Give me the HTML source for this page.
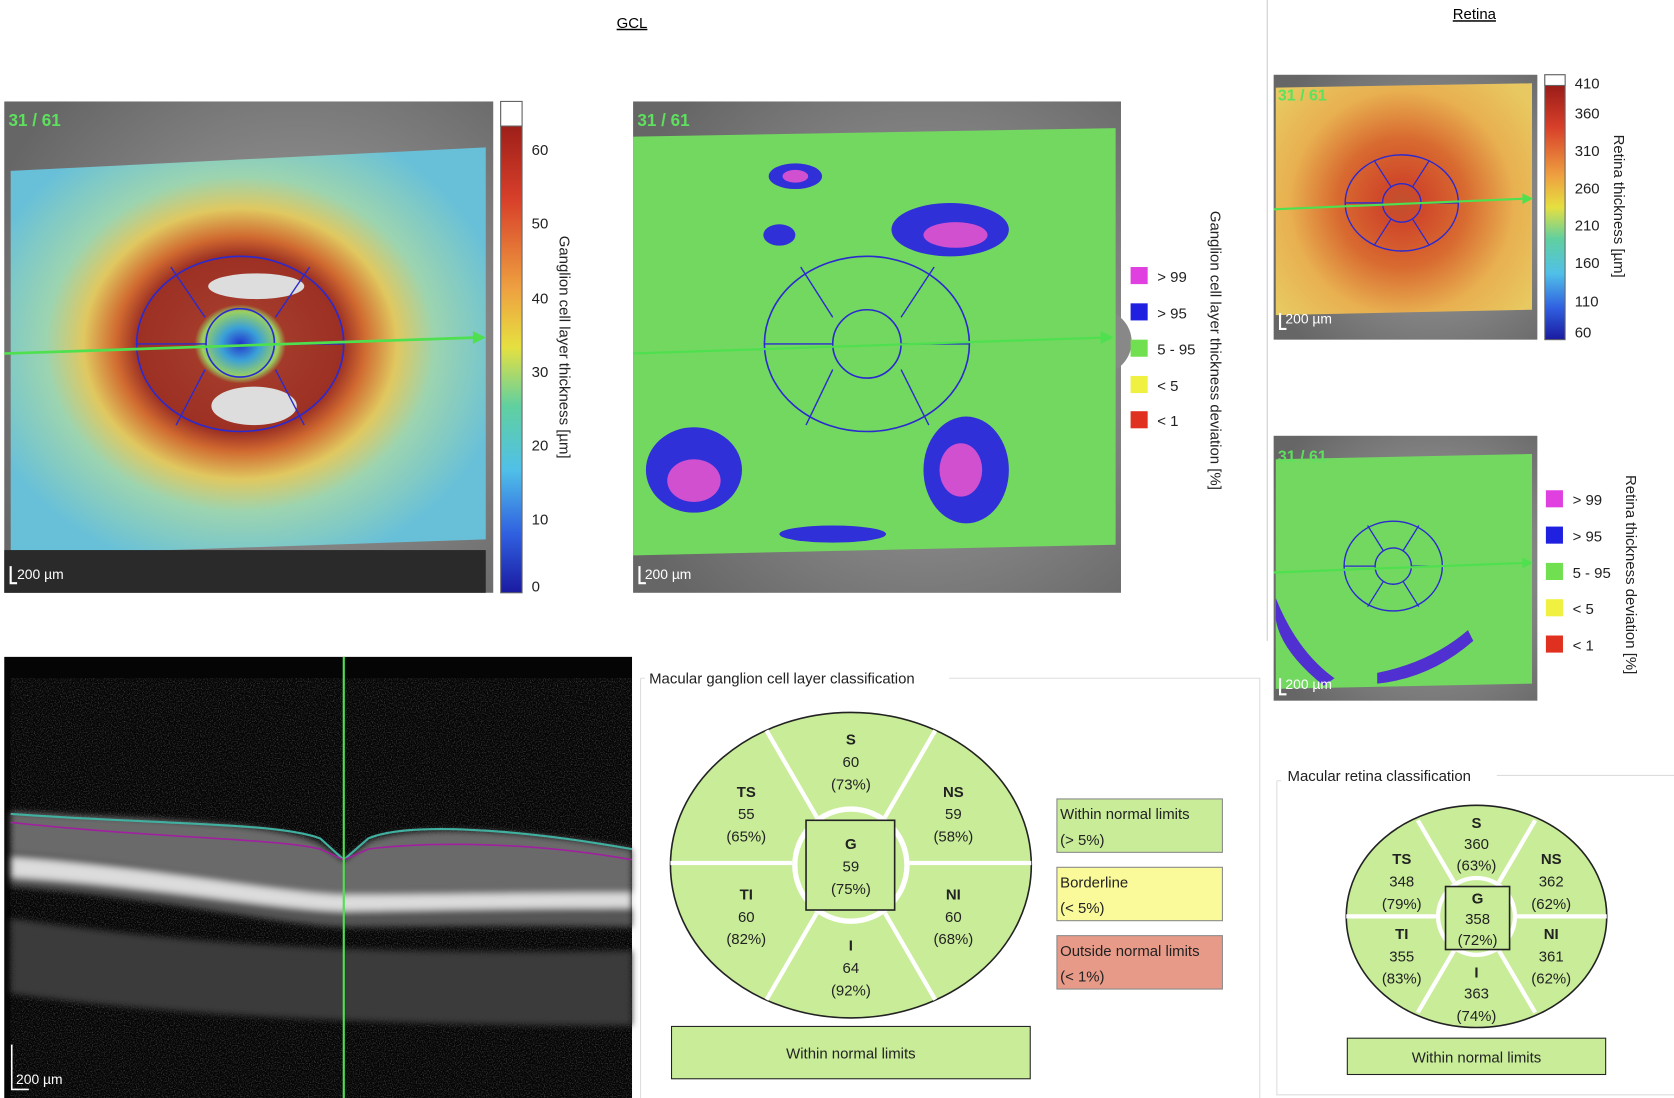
<!DOCTYPE html>
<html><head><meta charset="utf-8"><style>
html,body{margin:0;padding:0;background:#fff;width:1674px;height:1098px;overflow:hidden}
svg{display:block}
text{font-family:"Liberation Sans","DejaVu Sans",sans-serif}
</style></head><body>
<svg width="1674" height="1098" viewBox="0 0 1568 1028" preserveAspectRatio="none" xmlns="http://www.w3.org/2000/svg">
<defs>
<filter id="noise" x="0" y="0" width="100%" height="100%"><feTurbulence type="fractalNoise" baseFrequency="0.9" numOctaves="2" seed="3"/><feColorMatrix values="0 0 0 0 1  0 0 0 0 1  0 0 0 0 1  0 0 0 1.6 -0.75"/></filter>
<filter id="blur"><feGaussianBlur stdDeviation="3"/></filter>
<radialGradient id="gclmap" cx="225" cy="322" r="230" gradientUnits="userSpaceOnUse" gradientTransform="translate(225 322) scale(1.1 0.95) translate(-225 -322)">
<stop offset="0" stop-color="#2233cc"/><stop offset="0.07" stop-color="#3aa0d8"/><stop offset="0.14" stop-color="#9ad060"/><stop offset="0.17" stop-color="#a33a2a"/><stop offset="0.38" stop-color="#9c3024"/><stop offset="0.46" stop-color="#d06a30"/><stop offset="0.58" stop-color="#e0c860"/><stop offset="0.72" stop-color="#9cd4b0"/><stop offset="1" stop-color="#68c0d8"/></radialGradient>
<linearGradient id="cb1" x1="0" y1="0" x2="0" y2="1"><stop offset="0" stop-color="#8a1414"/><stop offset="0.2" stop-color="#d8402a"/><stop offset="0.38" stop-color="#eea040"/><stop offset="0.5" stop-color="#e6e040"/><stop offset="0.62" stop-color="#60d0a0"/><stop offset="0.75" stop-color="#50c0e8"/><stop offset="0.88" stop-color="#3060e0"/><stop offset="1" stop-color="#1a1aa0"/></linearGradient>
<radialGradient id="retmap" cx="1313" cy="190" r="150" gradientUnits="userSpaceOnUse"><stop offset="0" stop-color="#c05030"/><stop offset="0.15" stop-color="#d04a2a"/><stop offset="0.4" stop-color="#d86a30"/><stop offset="0.7" stop-color="#e8b050"/><stop offset="1" stop-color="#e8c860"/></radialGradient>
<radialGradient id="fund" cx="0.6" cy="0.5" r="0.7"><stop offset="0" stop-color="#aaa"/><stop offset="1" stop-color="#666"/></radialGradient>
</defs>
<rect width="1568" height="1028" fill="#fff"/>
<text x="592" y="26" font-size="14" text-anchor="middle" text-decoration="underline">GCL</text>
<text x="1381" y="18" font-size="14" text-anchor="middle" text-decoration="underline">Retina</text>
<line x1="1187" y1="0" x2="1187" y2="600" stroke="#ccc"/>

<!-- GCL thickness map -->
<rect x="4" y="95" width="458" height="460" fill="url(#fund)"/>
<polygon points="10,160 455,138 455,505 10,520" fill="url(#gclmap)"/>
<rect x="4" y="515" width="451" height="40" fill="#2a2a2a"/>
<ellipse cx="240" cy="268" rx="45" ry="12" fill="#ddd"/><ellipse cx="238" cy="380" rx="40" ry="18" fill="#ddd"/>
<ellipse cx="225" cy="322" rx="97" ry="82" fill="none" stroke="#2a2ad0" stroke-width="1.5"/>
<circle cx="225" cy="321" r="32" fill="none" stroke="#2a2ad0" stroke-width="1.5"/>
<path d="M192,297 L160,250 M258,297 L290,250 M192,346 L165,398 M258,346 L285,398 M128,322 L193,322 M257,322 L322,322" stroke="#2a2ad0" stroke-width="1.3"/>
<line x1="4" y1="331" x2="448" y2="316" stroke="#4ee04e" stroke-width="2.5"/><polygon points="455,316 443,310 443,322" fill="#4ee04e"/>
<text x="8" y="118" font-size="16" font-weight="bold" fill="#5de05d">31 / 61</text>
<text x="16" y="542" font-size="13" fill="#fff">200 µm</text><path d="M10,530 V546 H16" stroke="#fff" fill="none" stroke-width="2"/>
<rect x="469" y="95" width="20" height="460" fill="url(#cb1)" stroke="#666"/><rect x="469" y="95" width="20" height="23" fill="#fff" stroke="#666"/>
<g font-size="14" fill="#222"><text x="498" y="145">60</text><text x="498" y="214">50</text><text x="498" y="284">40</text><text x="498" y="353">30</text><text x="498" y="422">20</text><text x="498" y="491">10</text><text x="498" y="554">0</text></g>
<text transform="translate(524,325) rotate(90)" font-size="14" text-anchor="middle" fill="#222">Ganglion cell layer thickness [µm]</text>

<!-- GCL deviation map -->
<rect x="593" y="95" width="457" height="460" fill="url(#fund)"/>
<circle cx="1030" cy="320" r="30" fill="#888"/>
<polygon points="593,128 1045,120 1045,510 593,520" fill="#72d860"/>
<g fill="#3030d8"><ellipse cx="890" cy="215" rx="55" ry="25"/><ellipse cx="650" cy="440" rx="45" ry="40"/><ellipse cx="905" cy="440" rx="40" ry="50"/><ellipse cx="745" cy="165" rx="25" ry="12"/><ellipse cx="730" cy="220" rx="15" ry="10"/><ellipse cx="780" cy="500" rx="50" ry="8"/></g>
<g fill="#d050d0"><ellipse cx="895" cy="220" rx="30" ry="12"/><ellipse cx="650" cy="450" rx="25" ry="20"/><ellipse cx="900" cy="440" rx="20" ry="25"/><ellipse cx="745" cy="165" rx="12" ry="6"/></g>
<ellipse cx="812" cy="322" rx="96" ry="82" fill="none" stroke="#2a2ad0" stroke-width="1.5"/>
<circle cx="812" cy="322" r="32" fill="none" stroke="#2a2ad0" stroke-width="1.5"/>
<path d="M780,297 L750,250 M844,297 L875,250 M780,346 L755,398 M844,346 L870,398 M716,322 L780,322 M844,322 L908,322" stroke="#2a2ad0" stroke-width="1.3"/>
<line x1="593" y1="331" x2="1035" y2="316" stroke="#4ee04e" stroke-width="2"/><polygon points="1043,316 1031,310 1031,322" fill="#4ee04e"/>
<text x="597" y="118" font-size="16" font-weight="bold" fill="#5de05d">31 / 61</text>
<text x="604" y="542" font-size="13" fill="#fff">200 µm</text><path d="M599,530 V546 H605" stroke="#fff" fill="none" stroke-width="2"/>
<g font-size="14" fill="#222">
<rect x="1059" y="250" width="16" height="16" fill="#e040e0"/><text x="1084" y="264">&gt; 99</text>
<rect x="1059" y="284" width="16" height="16" fill="#2020e0"/><text x="1084" y="298">&gt; 95</text>
<rect x="1059" y="318" width="16" height="16" fill="#70e050"/><text x="1084" y="332">5 - 95</text>
<rect x="1059" y="352" width="16" height="16" fill="#f0f040"/><text x="1084" y="366">&lt; 5</text>
<rect x="1059" y="385" width="16" height="16" fill="#e03020"/><text x="1084" y="399">&lt; 1</text>
</g>
<text transform="translate(1134,328) rotate(90)" font-size="14" text-anchor="middle" fill="#222">Ganglion cell layer thickness deviation [%]</text>

<!-- Retina thickness -->
<rect x="1193" y="70" width="247" height="248" fill="url(#fund)"/>
<polygon points="1195,82 1435,78 1435,290 1195,295" fill="url(#retmap)"/>
<ellipse cx="1313" cy="190" rx="53" ry="45" fill="none" stroke="#2a2ad0" stroke-width="1.3"/>
<circle cx="1313" cy="190" r="18" fill="none" stroke="#2a2ad0" stroke-width="1.3"/>
<path d="M1303,175 L1287,150 M1323,175 L1339,150 M1303,205 L1287,230 M1323,205 L1339,230 M1260,190 L1295,190 M1331,190 L1366,190" stroke="#2a2ad0" stroke-width="1.2"/>
<line x1="1193" y1="196" x2="1428" y2="186" stroke="#4ee04e" stroke-width="2"/><polygon points="1436,186 1426,181 1426,191" fill="#4ee04e"/>
<text x="1197" y="94" font-size="15" font-weight="bold" fill="#5de05d">31 / 61</text>
<text x="1204" y="303" font-size="13" fill="#fff">200 µm</text><path d="M1199,293 V308 H1205" stroke="#fff" fill="none" stroke-width="2"/>
<rect x="1447" y="70" width="19" height="248" fill="url(#cb1)" stroke="#666"/><rect x="1447" y="70" width="19" height="10" fill="#fff" stroke="#666"/>
<g font-size="14" fill="#222"><text x="1475" y="83">410</text><text x="1475" y="111">360</text><text x="1475" y="146">310</text><text x="1475" y="181">260</text><text x="1475" y="216">210</text><text x="1475" y="251">160</text><text x="1475" y="287">110</text><text x="1475" y="316">60</text></g>
<text transform="translate(1512,193) rotate(90)" font-size="14" text-anchor="middle" fill="#222">Retina thickness [µm]</text>

<!-- Retina deviation -->
<rect x="1193" y="408" width="247" height="248" fill="url(#fund)"/>
<polygon points="1195,430 1435,425 1435,640 1195,645" fill="#72d860"/>
<path d="M1195,560 Q1215,610 1250,635 L1240,642 Q1200,610 1195,580Z" fill="#5030d0"/>
<path d="M1290,630 Q1340,620 1375,590 L1380,600 Q1340,635 1290,640Z" fill="#5030d0"/>
<ellipse cx="1305" cy="530" rx="46" ry="42" fill="none" stroke="#2a2ad0" stroke-width="1.3"/>
<circle cx="1305" cy="530" r="17" fill="none" stroke="#2a2ad0" stroke-width="1.3"/>
<path d="M1296,516 L1281,492 M1314,516 L1329,492 M1296,544 L1281,568 M1314,544 L1329,568 M1259,530 L1288,530 M1322,530 L1351,530" stroke="#2a2ad0" stroke-width="1.2"/>
<line x1="1193" y1="536" x2="1428" y2="527" stroke="#4ee04e" stroke-width="2"/><polygon points="1436,527 1426,522 1426,532" fill="#4ee04e"/>
<text x="1197" y="432" font-size="15" font-weight="bold" fill="#5de05d">31 / 61</text>
<text x="1204" y="645" font-size="13" fill="#fff">200 µm</text><path d="M1199,635 V650 H1205" stroke="#fff" fill="none" stroke-width="2"/>
<g font-size="14" fill="#222">
<rect x="1448" y="459" width="16" height="16" fill="#e040e0"/><text x="1473" y="473">&gt; 99</text>
<rect x="1448" y="493" width="16" height="16" fill="#2020e0"/><text x="1473" y="507">&gt; 95</text>
<rect x="1448" y="527" width="16" height="16" fill="#70e050"/><text x="1473" y="541">5 - 95</text>
<rect x="1448" y="561" width="16" height="16" fill="#f0f040"/><text x="1473" y="575">&lt; 5</text>
<rect x="1448" y="595" width="16" height="16" fill="#e03020"/><text x="1473" y="609">&lt; 1</text>
</g>
<text transform="translate(1523,538) rotate(90)" font-size="14" text-anchor="middle" fill="#222">Retina thickness deviation [%]</text>

<!-- OCT -->
<rect x="4" y="615" width="588" height="413" fill="#050505"/>
<rect x="10" y="635" width="582" height="393" fill="#000" filter="url(#noise)" opacity="0.4"/>
<g filter="url(#blur)">
<path d="M10,860 C150,880 300,895 592,890 L592,960 C350,960 150,950 10,930Z" fill="#3a3a3a"/>
<path d="M10,760 C150,768 260,770 300,790 L322,806 L345,788 C380,772 480,775 592,795 L592,840 C480,838 400,838 322,838 C260,836 150,810 10,800Z" fill="#6a6a6a"/>
<path d="M10,798 C150,808 260,836 322,838 C400,838 480,836 592,838 L592,868 C480,866 400,868 322,868 C260,866 150,840 10,830Z" fill="#555"/>
<path d="M10,803 C150,813 260,836 322,838 C400,838 480,836 592,836 L592,850 C480,850 400,852 322,853 C260,852 150,830 10,821Z" fill="#dcdcdc"/>
</g>
<path d="M10,762 C150,772 260,770 300,785 L322,805 L345,785 C380,770 480,775 592,795" fill="none" stroke="#40b0a0" stroke-width="2"/>
<path d="M10,770 C150,785 260,785 300,795 L322,805 L345,795 C380,790 480,785 592,805" fill="none" stroke="#a020a0" stroke-width="1.5"/>
<line x1="322" y1="615" x2="322" y2="1028" stroke="#4ee04e" stroke-width="2"/>
<text x="15" y="1015" font-size="13" fill="#fff">200 µm</text><path d="M11,978 V1020 H27" stroke="#fff" fill="none" stroke-width="1.5"/>

<!-- GCL classification -->
<path d="M600,635 H604 M889,635 H1180 V1028 M600,635 V1028" stroke="#ddd" fill="none"/>
<text x="608" y="640" font-size="14" fill="#222">Macular ganglion cell layer classification</text>
<ellipse cx="797" cy="810" rx="169" ry="143" fill="#c8ec98" stroke="#222" stroke-width="1.5"/>
<circle cx="797" cy="810" r="55" fill="#fff"/><circle cx="797" cy="810" r="50" fill="#c8ec98"/>
<path d="M765,765 L718,684 M829,765 L876,684 M765,855 L718,936 M829,855 L876,936 M628,808 L742,808 M852,808 L966,808" stroke="#fff" stroke-width="4"/>
<rect x="755" y="768" width="83" height="84" fill="#c8ec98" stroke="#222" stroke-width="1.5"/>
<g font-size="14" text-anchor="middle" fill="#222">
<text x="797" y="697" font-weight="bold">S</text><text x="797" y="718">60</text><text x="797" y="739">(73%)</text>
<text x="699" y="746" font-weight="bold">TS</text><text x="699" y="767">55</text><text x="699" y="788">(65%)</text>
<text x="893" y="746" font-weight="bold">NS</text><text x="893" y="767">59</text><text x="893" y="788">(58%)</text>
<text x="797" y="795" font-weight="bold">G</text><text x="797" y="816">59</text><text x="797" y="837">(75%)</text>
<text x="699" y="842" font-weight="bold">TI</text><text x="699" y="863">60</text><text x="699" y="884">(82%)</text>
<text x="893" y="842" font-weight="bold">NI</text><text x="893" y="863">60</text><text x="893" y="884">(68%)</text>
<text x="797" y="890" font-weight="bold">I</text><text x="797" y="911">64</text><text x="797" y="932">(92%)</text>
</g>
<g font-size="14" fill="#222">
<rect x="990" y="748" width="155" height="50" fill="#c8ec98" stroke="#888"/><text x="993" y="767">Within normal limits</text><text x="993" y="791">(&gt; 5%)</text>
<rect x="990" y="812" width="155" height="50" fill="#fafa9a" stroke="#888"/><text x="993" y="831">Borderline</text><text x="993" y="855">(&lt; 5%)</text>
<rect x="990" y="876" width="155" height="50" fill="#e89a88" stroke="#888"/><text x="993" y="895">Outside normal limits</text><text x="993" y="919">(&lt; 1%)</text>
</g>
<rect x="629" y="961" width="336" height="49" fill="#c8ec98" stroke="#222"/>
<text x="797" y="991" font-size="14" text-anchor="middle" fill="#222">Within normal limits</text>

<!-- Retina classification -->
<path d="M1196,731 H1200 M1402,726 H1568 M1196,731 V1025 H1568" stroke="#ddd" fill="none"/>
<text x="1206" y="731" font-size="14" fill="#222">Macular retina classification</text>
<ellipse cx="1383" cy="858" rx="122" ry="104" fill="#c8ec98" stroke="#222" stroke-width="1.5"/>
<circle cx="1383" cy="858" r="38" fill="#fff"/><circle cx="1383" cy="858" r="34" fill="#c8ec98"/>
<path d="M1362,826 L1328,768 M1404,826 L1438,768 M1362,890 L1328,948 M1404,890 L1438,948 M1261,858 L1345,858 M1421,858 L1505,858" stroke="#fff" stroke-width="4"/>
<rect x="1354" y="830" width="60" height="59" fill="#c8ec98" stroke="#222" stroke-width="1.5"/>
<g font-size="14" text-anchor="middle" fill="#222">
<text x="1383" y="775" font-weight="bold">S</text><text x="1383" y="795">360</text><text x="1383" y="815">(63%)</text>
<text x="1313" y="809" font-weight="bold">TS</text><text x="1313" y="830">348</text><text x="1313" y="851">(79%)</text>
<text x="1453" y="809" font-weight="bold">NS</text><text x="1453" y="830">362</text><text x="1453" y="851">(62%)</text>
<text x="1384" y="846" font-weight="bold">G</text><text x="1384" y="865">358</text><text x="1384" y="885">(72%)</text>
<text x="1313" y="879" font-weight="bold">TI</text><text x="1313" y="900">355</text><text x="1313" y="921">(83%)</text>
<text x="1453" y="879" font-weight="bold">NI</text><text x="1453" y="900">361</text><text x="1453" y="921">(62%)</text>
<text x="1383" y="915" font-weight="bold">I</text><text x="1383" y="935">363</text><text x="1383" y="956">(74%)</text>
</g>
<rect x="1262" y="972" width="242" height="34" fill="#c8ec98" stroke="#222"/>
<text x="1383" y="995" font-size="14" text-anchor="middle" fill="#222">Within normal limits</text>
</svg>
</body></html>
